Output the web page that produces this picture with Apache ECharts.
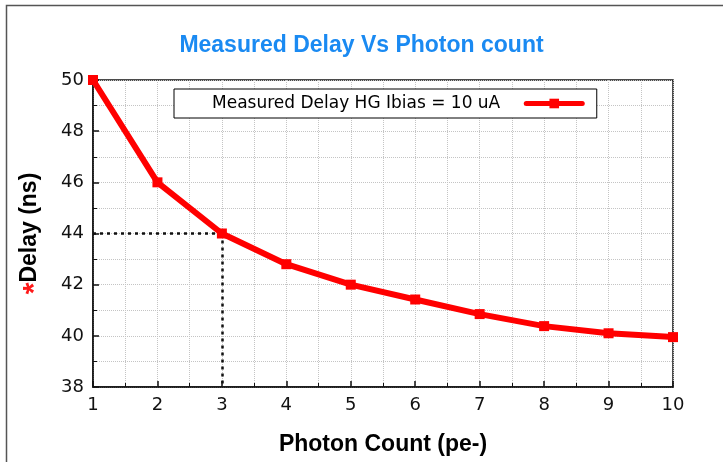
<!DOCTYPE html>
<html><head><meta charset="utf-8">
<script src="https://cdn.jsdelivr.net/npm/echarts@6/dist/echarts.min.js"></script>
<style>html,body{margin:0;padding:0;background:#fff}#c{width:723px;height:462px}</style>
</head><body><div id="c"></div>
<script>
const photonCount = [1, 2, 3, 4, 5, 6, 7, 8, 9, 10];
const delayNs = [50, 46, 44, 42.8, 42.0, 41.42, 40.85, 40.38, 40.1, 39.95];
const seriesName = 'Measured Delay HG Ibias = 10 uA';
const refPoint = [3, 44];

const chart = echarts.init(document.getElementById('c'));
chart.setOption({
  animation: false,
  backgroundColor: '#fff',
  graphic: [{type:'rect', left:4, top:3, shape:{width:740, height:480}, style:{fill:'none', stroke:'#555', lineWidth:1.5}, silent:true, z:-1}],
  title: {text:'Measured Delay Vs Photon count', left:'center', top:29, textStyle:{fontFamily:'Liberation Sans', fontWeight:'bold', fontSize:23, color:'#1a8af2'}},
  legend: {left:174, top:89, padding:[6,12,6,38], align:'right', itemWidth:56, itemHeight:12, itemGap:0,
    borderColor:'#000', borderWidth:1, backgroundColor:'#fff',
    lineStyle:{width:5},
    textStyle:{fontFamily:'DejaVu Sans', fontSize:17, color:'#000', padding:[0,21,0,0]}, data:[seriesName]},
  grid: {left:93, right:50, top:80, bottom:75, show:true, borderColor:'#111', borderWidth:1.5, backgroundColor:'transparent'},
  xAxis: {type:'value', min:1, max:10, interval:1,
    name:'Photon Count (pe-)', nameLocation:'middle', nameGap:46,
    nameTextStyle:{fontFamily:'Liberation Sans', fontWeight:'bold', fontSize:23, color:'#000'},
    axisLine:{lineStyle:{color:'#111', width:1.5}},
    axisTick:{inside:true, length:6, lineStyle:{color:'#111', width:1.5}},
    minorTick:{show:true, splitNumber:2, length:4, lineStyle:{color:'#111'}},
    axisLabel:{margin:9, fontFamily:'DejaVu Sans', fontSize:18, color:'#111'},
    splitLine:{show:true, lineStyle:{type:'dotted', color:'#c4c4c4'}},
    minorSplitLine:{show:true, lineStyle:{type:'dotted', color:'#c4c4c4'}}},
  yAxis: {type:'value', min:38, max:50, interval:2,
    name:'{a|*}{b|Delay (ns)}', nameLocation:'middle', nameGap:42,
    nameTextStyle:{rich:{a:{color:'#ff1a1a', fontFamily:'Liberation Sans', fontWeight:'bold', fontSize:30, padding:[12,0,0,0]}, b:{color:'#000', fontFamily:'Liberation Sans', fontWeight:'bold', fontSize:23}}},
    axisLine:{lineStyle:{color:'#111', width:1.5}},
    axisTick:{inside:true, length:6, lineStyle:{color:'#111', width:1.5}},
    minorTick:{show:true, splitNumber:2, length:4, lineStyle:{color:'#111'}},
    axisLabel:{margin:9, fontFamily:'DejaVu Sans', fontSize:18, color:'#111'},
    splitLine:{show:true, lineStyle:{type:'dotted', color:'#c4c4c4'}},
    minorSplitLine:{show:true, lineStyle:{type:'dotted', color:'#c4c4c4'}}},
  series: [{
    name: seriesName, type:'line',
    data: photonCount.map((x,i)=>[x, delayNs[i]]),
    symbol:'rect', symbolSize:10, showSymbol:true,
    lineStyle:{color:'#ff0000', width:6, cap:'round', join:'round'}, itemStyle:{color:'#ff0000'},
    clip:false, z:5,
    markLine:{silent:true, symbol:'none', label:{show:false},
      lineStyle:{type:[3,4], color:'#111', width:2.5},
      data:[
        [{coord:[photonCount[0], refPoint[1]]},{coord:[refPoint[0], refPoint[1]]}],
        [{coord:[refPoint[0], refPoint[1]]},{coord:[refPoint[0], 38]}]
      ]}
  }]
});
</script></body></html>
